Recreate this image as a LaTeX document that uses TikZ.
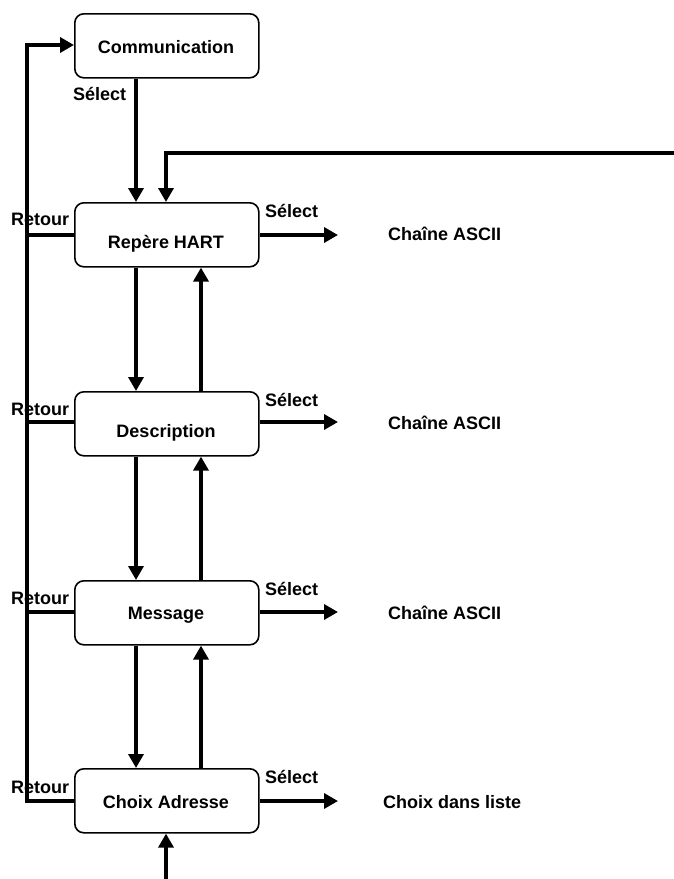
\documentclass[tikz,border=0pt]{standalone}
\usepackage{fontspec}
\setmainfont{Liberation Sans}
\usetikzlibrary{arrows.meta,calc}
\begin{document}
\begin{tikzpicture}[x=1pt,y=-1pt,
  box/.style={draw,line width=1.6pt,rounded corners=9pt,minimum width=184pt,
    minimum height=64pt,inner sep=0pt,anchor=north west},
  txt/.style={font=\fontsize{18}{21}\selectfont\bfseries,inner sep=0pt,anchor=base},
  lbl/.style={txt,anchor=base west},
  wire/.style={line width=3.4pt},
  arr/.style={wire,-{Triangle[length=14pt,width=15pt]}}]
\useasboundingbox (0,0) rectangle (674,879);

% labels (drawn first so the wires pass over them)
\node[lbl] (scom) at (73,100)  {Sélect};
\node[lbl] (srep) at (265,217) {Sélect};
\node[lbl] (sdes) at (265,406) {Sélect};
\node[lbl] (smsg) at (265,595) {Sélect};
\node[lbl] (scho) at (265,783) {Sélect};
\node[lbl] (brep) at (11,225) {Retour};
\node[lbl] (bdes) at (11,415) {Retour};
\node[lbl] (bmsg) at (11,604) {Retour};
\node[lbl] (bcho) at (11,793) {Retour};

% menu boxes
\node[box] (com) at (74,13)  {};
\node[box] (rep) at (74,202) {};
\node[box] (des) at (74,391) {};
\node[box] (msg) at (74,580) {};
\node[box] (cho) at (74,768) {};

% box titles
\node[txt] (tcom) at (166,53)  {Communication};
\node[txt] (trep) at (166,248) {Repère HART};
\node[txt] (tdes) at (166,437) {Description};
\node[txt] (tmsg) at (166,619) {Message};
\node[txt] (tcho) at (166,808) {Choix Adresse};

% results on the right
\node[lbl] (rrep) at (388,240) {Chaîne ASCII};
\node[lbl] (rdes) at (388,429) {Chaîne ASCII};
\node[lbl] (rmsg) at (388,619) {Chaîne ASCII};
\node[lbl] (rcho) at (383,808) {Choix dans liste};

% rail points
\coordinate (railtop) at (27,45);
\coordinate (railbot) at (27,801);
\coordinate (fbin)  at (674,153);
\coordinate (fbcor) at (166,153);
\coordinate (bin)   at (166,879);

% Sélect outputs
\coordinate (orep) at (338,235);
\coordinate (odes) at (338,422);
\coordinate (omsg) at (338,612);
\coordinate (ocho) at (338,801);
\draw[arr] (rep.east |- orep) -- (orep);
\draw[arr] (des.east |- odes) -- (odes);
\draw[arr] (msg.east |- omsg) -- (omsg);
\draw[arr] (cho.east |- ocho) -- (ocho);

% return rail on the left
\draw[arr,line join=miter] (cho.west |- railbot) -- (railbot) -- (railtop) -- (com.west |- railtop);
\draw[wire] (railtop |- orep) -- (rep.west |- orep);
\draw[wire] (railtop |- odes) -- (des.west |- odes);
\draw[wire] (railtop |- omsg) -- (msg.west |- omsg);

% downward navigation
\draw[arr] ($(com.south west)+(62,0)$) -- ($(rep.north west)+(62,0)$);
\draw[arr] ($(rep.south west)+(62,0)$) -- ($(des.north west)+(62,0)$);
\draw[arr] ($(des.south west)+(62,0)$) -- ($(msg.north west)+(62,0)$);
\draw[arr] ($(msg.south west)+(62,0)$) -- ($(cho.north west)+(62,0)$);

% upward navigation
\draw[arr] ($(des.north west)+(127,0)$) -- ($(rep.south west)+(127,0)$);
\draw[arr] ($(msg.north west)+(127,0)$) -- ($(des.south west)+(127,0)$);
\draw[arr] ($(cho.north west)+(127,0)$) -- ($(msg.south west)+(127,0)$);
\draw[arr] (bin) -- (cho.south -| bin);

% feedback from the right
\draw[arr,line join=miter] (fbin) -- (fbcor) -- (rep.north -| fbcor);
\end{tikzpicture}
\end{document}
